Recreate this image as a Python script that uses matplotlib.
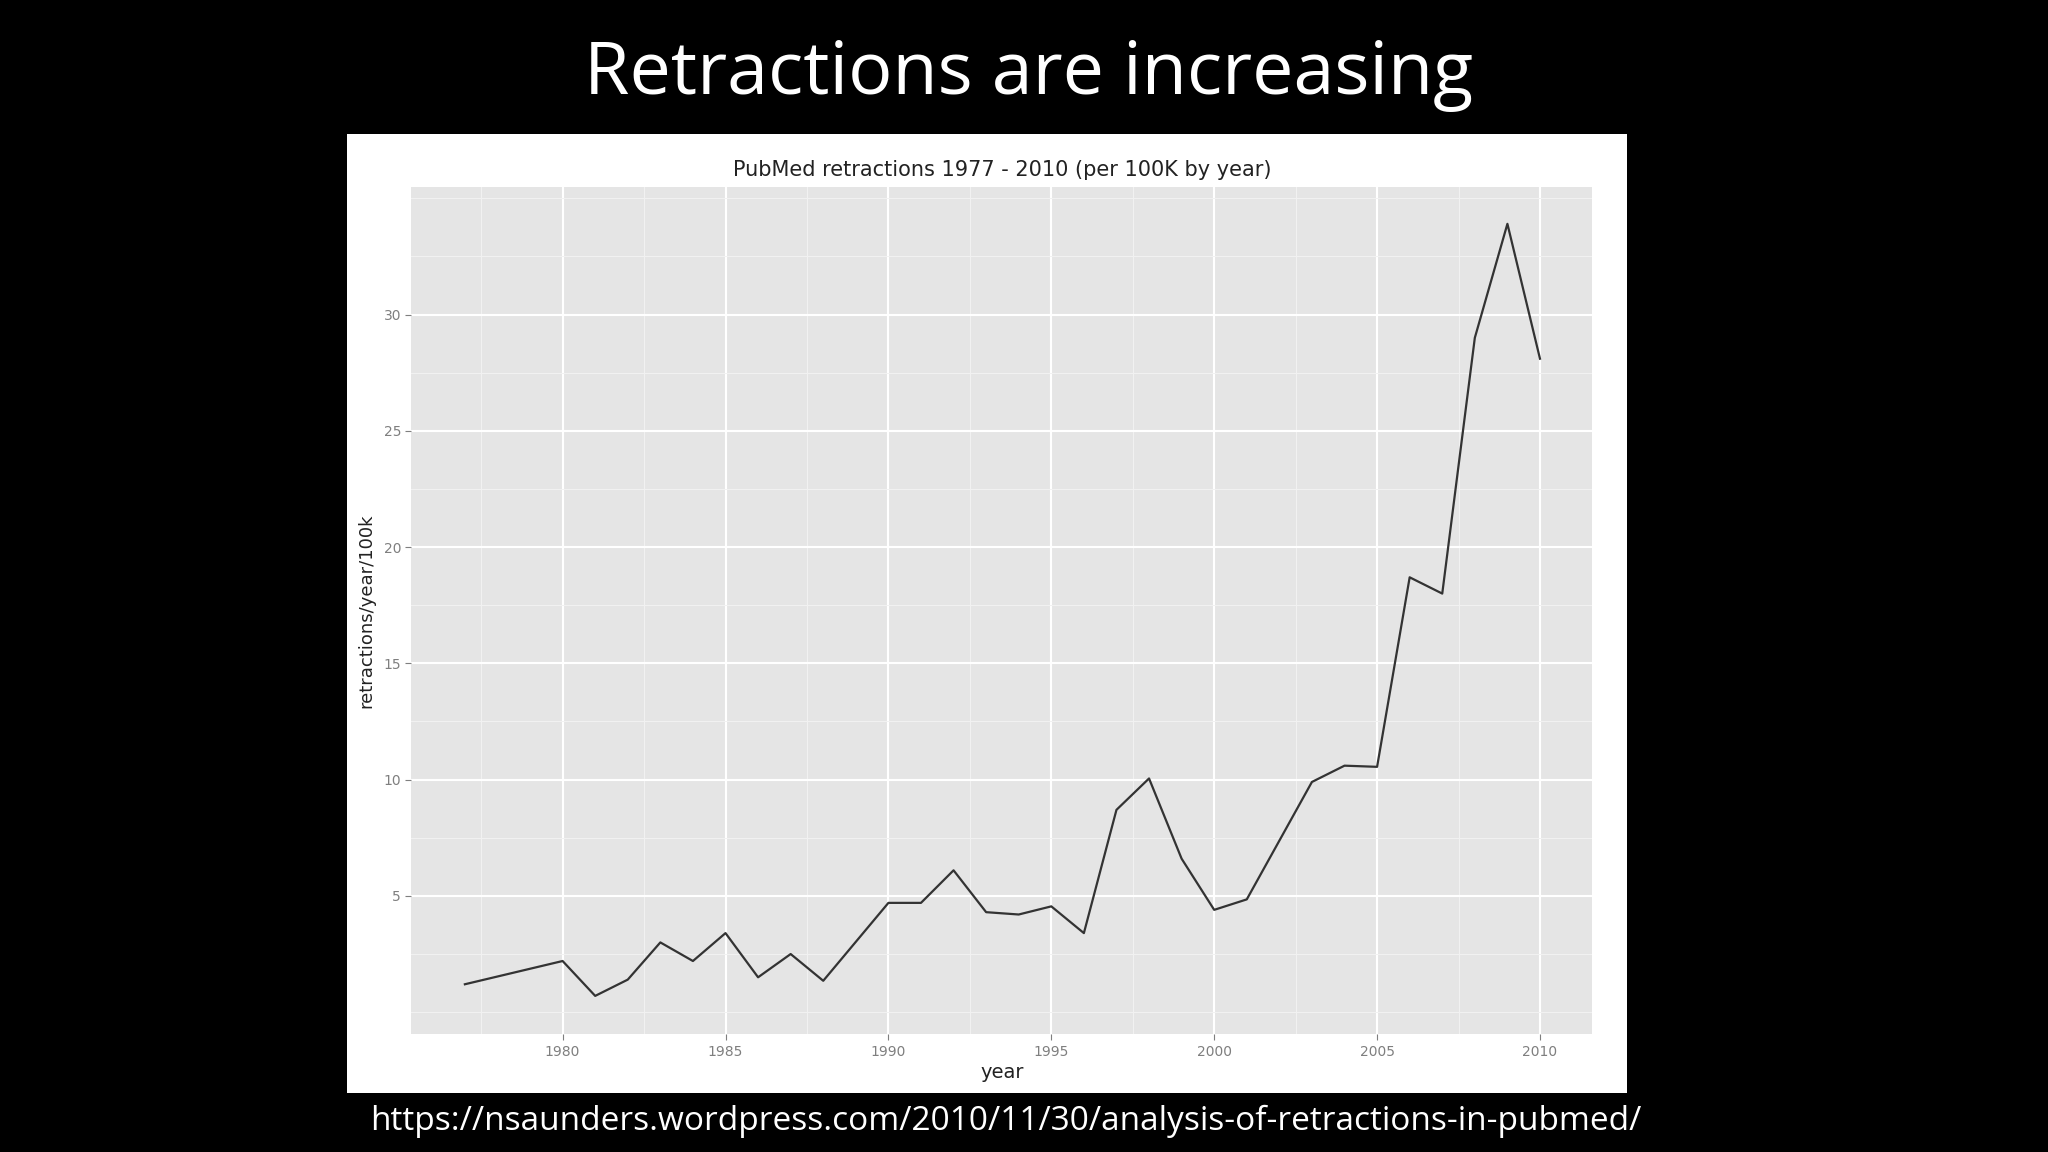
import matplotlib
matplotlib.use("Agg")
import matplotlib.pyplot as plt
from matplotlib.ticker import MultipleLocator

years = [1977, 1980, 1981, 1982, 1983, 1984, 1985, 1986, 1987, 1988, 1990, 1991, 1992,
         1993, 1994, 1995, 1996, 1997, 1998, 1999, 2000, 2001, 2003, 2004, 2005, 2006,
         2007, 2008, 2009, 2010]
rate = [1.2, 2.2, 0.7, 1.4, 3.0, 2.2, 3.4, 1.5, 2.5, 1.35, 4.7, 4.7, 6.1,
        4.3, 4.2, 4.55, 3.4, 8.7, 10.05, 6.6, 4.4, 4.85, 9.9, 10.6, 10.55, 18.7,
        18.0, 29.0, 33.9, 28.1]
xticks = [1980, 1985, 1990, 1995, 2000, 2005, 2010]
yticks = [5, 10, 15, 20, 25, 30]

fig = plt.figure(figsize=(20.48, 11.52), dpi=100, facecolor="black")
bg = fig.add_axes([0.1696, 0.051, 0.625, 0.833], zorder=-5)
bg.set_facecolor("white")
bg.set_xticks([]); bg.set_yticks([])
for s in bg.spines.values():
    s.set_visible(False)

fig.text(0.502, 0.935, "Retractions are increasing", color="white", fontsize=53,
         family="Open Sans", ha="center", va="center")
fig.text(0.491, 0.027, "https://nsaunders.wordpress.com/2010/11/30/analysis-of-retractions-in-pubmed/",
         color="white", fontsize=24, family="Open Sans", ha="center", va="center")

ax = fig.add_axes([0.2009, 0.102, 0.5765, 0.736], zorder=1)
ax.set_facecolor("#e5e5e5")
ax.plot(years, rate, color="#333333", lw=1.6, zorder=3)
ax.set_xlim(1975.36, 2011.6)
ax.set_ylim(-0.96, 35.5)
ax.set_xticks(xticks)
ax.set_yticks(yticks)
ax.xaxis.set_minor_locator(MultipleLocator(2.5))
ax.yaxis.set_minor_locator(MultipleLocator(2.5))
ax.grid(which="major", color="white", lw=1.5)
ax.grid(which="minor", color="#f2f2f2", lw=0.7)
for s in ax.spines.values():
    s.set_visible(False)
ax.tick_params(which="both", length=0)
ax.tick_params(which="major", length=4, color="#7f7f7f", labelsize=10, labelcolor="#7f7f7f")
ax.set_xlabel("year", fontsize=14, color="#222222", labelpad=3)
ax.set_ylabel("retractions/year/100k", fontsize=13, color="#222222", labelpad=6)
ax.set_title("PubMed retractions 1977 - 2010 (per 100K by year)", fontsize=15, color="#222222", pad=8)
ax.set_axisbelow(True)
fig.savefig("out.png", dpi=100, facecolor="black")
